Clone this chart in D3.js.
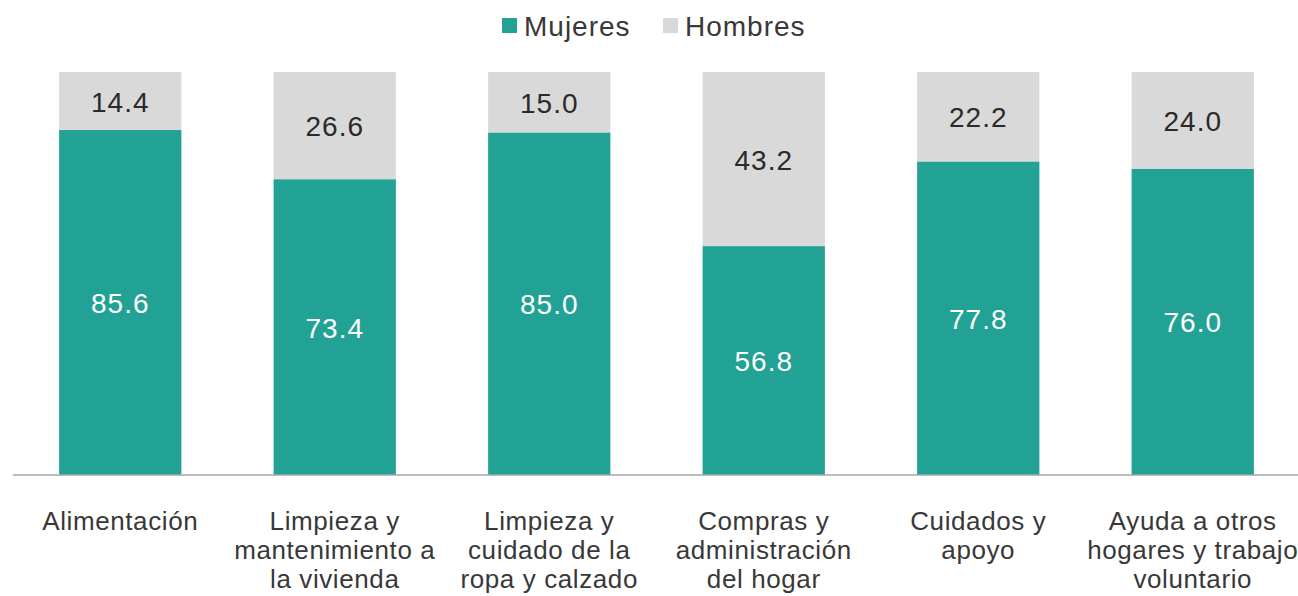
<!DOCTYPE html>
<html>
<head>
	<title>Trabajo no remunerado</title>
	<meta charset='utf-8'>
	<style>
		body { margin: 0; background: #fff; }
		svg { font-family: 'Liberation Sans', Arial, sans-serif; }
		.cat { fill: #383838; font-size: 26px; letter-spacing: 0.6px; }
		.val { font-size: 28px; letter-spacing: 1px; }
		.legend text { fill: #383838; font-size: 28px; letter-spacing: 1px; }
		.axis-line { stroke: #a6a6a6; stroke-width: 1.5px; }
	</style>
</head>
<body>
<script src='https://d3js.org/d3.v7.min.js'></script>
<script>
	'use strict';
	const categories = [
		['Alimentación'],
		['Limpieza y', 'mantenimiento a', 'la vivienda'],
		['Limpieza y', 'cuidado de la', 'ropa y calzado'],
		['Compras y', 'administración', 'del hogar'],
		['Cuidados y', 'apoyo'],
		['Ayuda a otros', 'hogares y trabajo', 'voluntario']
	];
	const mujeres = [85.6, 73.4, 85.0, 56.8, 77.8, 76.0];
	const hombres = [14.4, 26.6, 15.0, 43.2, 22.2, 24.0];
	const seriesNames = ['Mujeres', 'Hombres'];
	const colors = ['#21a295', '#d9d9d9'];

	const width = 1298, height = 596;
	const plotTop = 72, plotBottom = 475, plotLeft = 13, plotRight = 1300;

	const data = categories.map(function(c, i) {
		return {key: i, Mujeres: mujeres[i], Hombres: hombres[i]};
	});

	const xScale = d3.scaleBand().domain(d3.range(categories.length))
		.range([plotLeft, plotRight]).paddingInner(0.43).paddingOuter(0.215);
	const yScale = d3.scaleLinear().domain([0, 100]).range([plotBottom, plotTop]);

	const svg = d3.select('body').append('svg')
		.attr('width', width)
		.attr('height', height);

	const stacked = d3.stack().keys(seriesNames)(data);

	const layer = svg.selectAll('.layer')
		.data(stacked)
		.enter().append('g')
		.attr('class', 'layer')
		.attr('fill', function(d, i) { return colors[i]; });

	layer.selectAll('rect')
		.data(function(d) { return d; })
		.enter().append('rect')
		.attr('x', function(d) { return xScale(d.data.key); })
		.attr('width', xScale.bandwidth())
		.attr('y', function(d) { return yScale(d[1]); })
		.attr('height', function(d) { return yScale(d[0]) - yScale(d[1]); });

	layer.each(function(s) {
		d3.select(this).selectAll('text')
			.data(s)
			.enter().append('text')
			.attr('class', 'val')
			.attr('text-anchor', 'middle')
			.attr('dominant-baseline', 'central')
			.attr('fill', s.key === 'Mujeres' ? '#fff' : '#2a2a2a')
			.attr('x', function(d) { return xScale(d.data.key) + xScale.bandwidth() / 2; })
			.attr('y', function(d) { return (yScale(d[0]) + yScale(d[1])) / 2 + 1; })
			.text(function(d) { return (d[1] - d[0]).toFixed(1); });
	});

	// eje x
	svg.append('line')
		.attr('class', 'axis-line')
		.attr('x1', plotLeft).attr('x2', plotRight)
		.attr('y1', plotBottom).attr('y2', plotBottom);

	svg.selectAll('.cat')
		.data(categories)
		.enter().append('text')
		.attr('class', 'cat')
		.attr('text-anchor', 'middle')
		.attr('x', function(d, i) { return xScale(i) + xScale.bandwidth() / 2; })
		.attr('y', 530)
		.selectAll('tspan')
		.data(function(d) { return d; })
		.enter().append('tspan')
		.attr('x', function() { return d3.select(this.parentNode).attr('x'); })
		.attr('dy', function(d, i) { return i === 0 ? 0 : 29; })
		.text(function(d) { return d; });

	// leyenda
	const legend = svg.append('g').attr('class', 'legend');
	const legendX = [502, 663];
	seriesNames.forEach(function(name, i) {
		legend.append('rect')
			.attr('x', legendX[i]).attr('y', 18)
			.attr('width', 15).attr('height', 15)
			.attr('fill', colors[i]);
		legend.append('text')
			.attr('x', legendX[i] + 22).attr('y', 36)
			.text(name);
	});
</script>
</body>
</html>
